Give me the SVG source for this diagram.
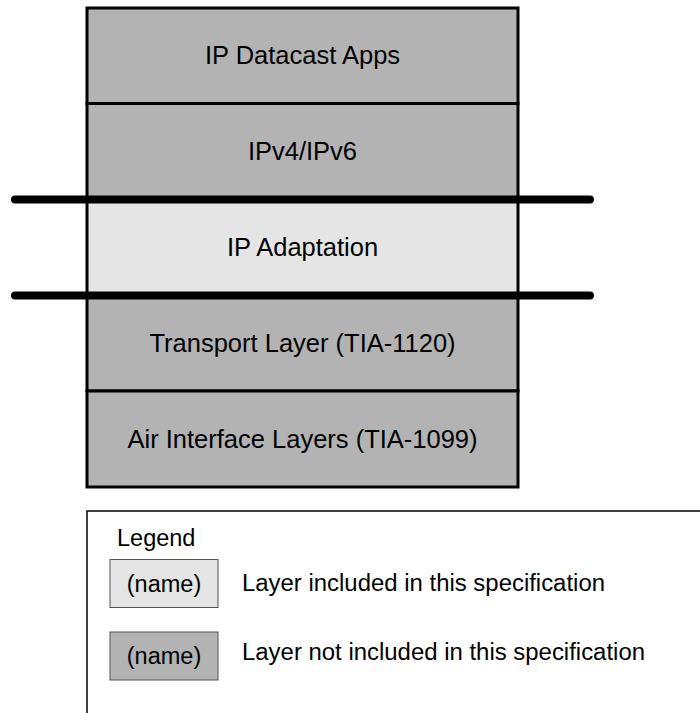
<svg xmlns="http://www.w3.org/2000/svg" width="700" height="713" viewBox="0 0 700 713">
<style>
.dark{fill:#b3b3b3;stroke:#000;stroke-width:3}
.light{fill:#e5e5e5;stroke:#000;stroke-width:3}
.lbl{font-family:"Liberation Sans",Arial,sans-serif;font-size:25.5px;fill:#000;text-anchor:middle}
.leg{font-family:"Liberation Sans",Arial,sans-serif;font-size:23.5px;fill:#000}
.sw1{fill:#e5e5e5;stroke:#555;stroke-width:1}
.sw2{fill:#b3b3b3;stroke:#555;stroke-width:1}
.bar{stroke:#000;stroke-width:8;stroke-linecap:round;fill:none}
</style>
<rect width="700" height="713" fill="#fff"/>
<g id="layer-apps"><rect class="dark" x="87" y="8" width="431" height="95.5"/><text class="lbl" x="302.5" y="64">IP Datacast Apps</text></g>
<g id="layer-ip"><rect class="dark" x="87" y="103.5" width="431" height="95.5"/><text class="lbl" x="302.5" y="160">IPv4/IPv6</text></g>
<g id="layer-adapt"><rect class="light" x="87" y="199" width="431" height="96"/><text class="lbl" x="302.5" y="256">IP Adaptation</text></g>
<g id="layer-transport"><rect class="dark" x="87" y="295" width="431" height="96"/><text class="lbl" x="302.5" y="352">Transport Layer (TIA-1120)</text></g>
<g id="layer-air"><rect class="dark" x="87" y="391" width="431" height="96"/><text class="lbl" x="302.5" y="448">Air Interface Layers (TIA-1099)</text></g>
<g id="connectors"><line class="bar" x1="15" y1="199.5" x2="590" y2="199.5"/><line class="bar" x1="15" y1="295.5" x2="590" y2="295.5"/></g>
<g id="legend">
<rect x="87" y="511" width="700" height="300" fill="#fff" stroke="#000" stroke-width="1.5"/>
<text class="leg" x="117" y="546">Legend</text>
<rect class="sw1" x="110" y="559.5" width="108" height="48"/>
<text class="leg" x="164" y="592" text-anchor="middle">(name)</text>
<text class="leg" x="242" y="591" textLength="363" lengthAdjust="spacingAndGlyphs">Layer included in this specification</text>
<rect class="sw2" x="110" y="632" width="108" height="48"/>
<text class="leg" x="164" y="664" text-anchor="middle">(name)</text>
<text class="leg" x="242" y="660" textLength="403" lengthAdjust="spacingAndGlyphs">Layer not included in this specification</text>
</g>
</svg>
